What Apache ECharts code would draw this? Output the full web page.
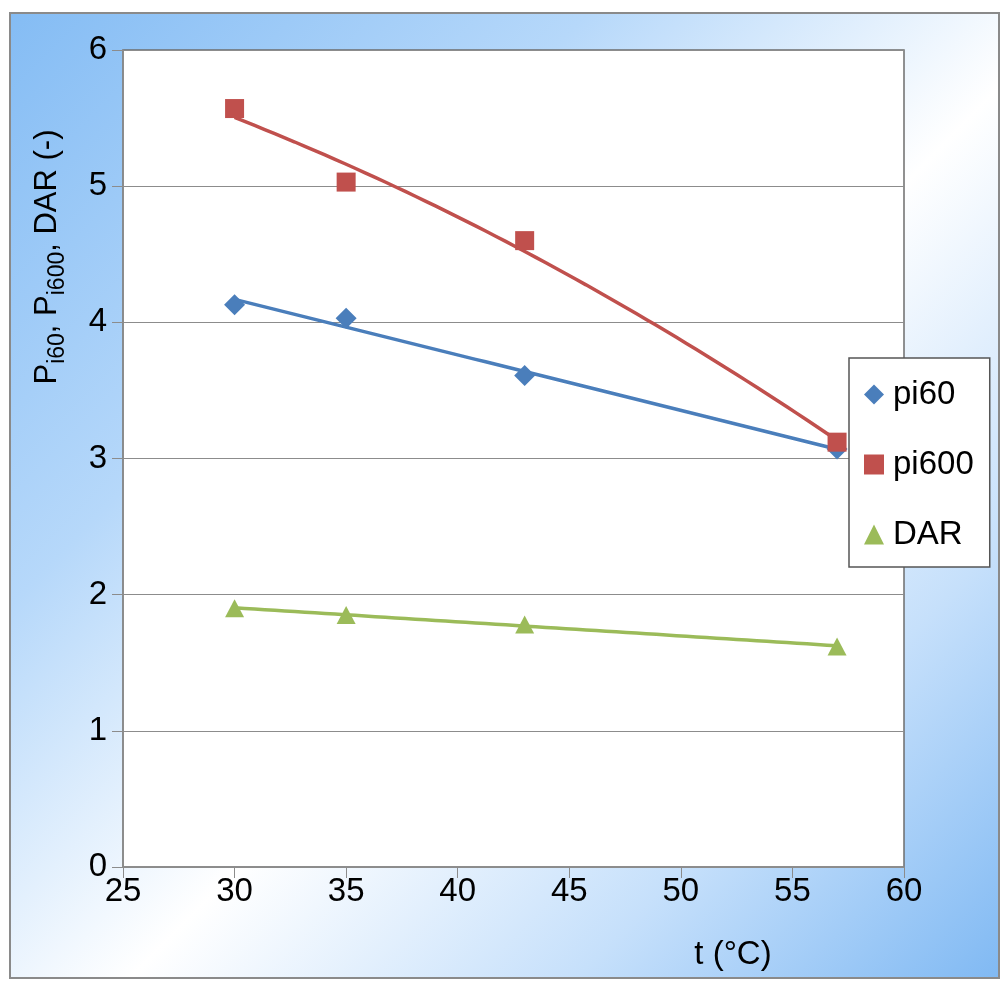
<!DOCTYPE html>
<html>
<head>
<meta charset="utf-8">
<script src="https://cdn.jsdelivr.net/npm/echarts@6/dist/echarts.min.js"></script>
<style>
html,body{margin:0;padding:0;background:#fff;}
#c{width:1001px;height:983px;}
</style>
</head>
<body>
<div id="c"></div>
<script>
// ---- data ----
const temps = [30, 35, 43, 57];
const pi60 = [4.13, 4.03, 3.61, 3.07];
const pi600 = [5.57, 5.03, 4.60, 3.12];
const dar = [1.90, 1.85, 1.78, 1.62];
const xTicks = [25, 30, 35, 40, 45, 50, 55, 60];
const yTicks = [0, 1, 2, 3, 4, 5, 6];
const seriesNames = ['pi60', 'pi600', 'DAR'];

// least-squares polynomial fit (trendlines, computed from the data)
function polyfit(xs, ys, deg) {
  const n = deg + 1;
  const A = [];
  for (let i = 0; i < n; i++) {
    A.push(new Array(n + 1).fill(0));
  }
  for (let k = 0; k < xs.length; k++) {
    for (let i = 0; i < n; i++) {
      for (let j = 0; j < n; j++) A[i][j] += Math.pow(xs[k], i + j);
      A[i][n] += ys[k] * Math.pow(xs[k], i);
    }
  }
  for (let i = 0; i < n; i++) {
    let p = i;
    for (let r = i + 1; r < n; r++) if (Math.abs(A[r][i]) > Math.abs(A[p][i])) p = r;
    [A[i], A[p]] = [A[p], A[i]];
    for (let r = 0; r < n; r++) {
      if (r === i) continue;
      const f = A[r][i] / A[i][i];
      for (let c = i; c <= n; c++) A[r][c] -= f * A[i][c];
    }
  }
  return A.map((row, i) => row[n] / row[i]);
}
function trend(xs, ys, deg) {
  const c = polyfit(xs, ys, deg);
  const x0 = xs[0], x1 = xs[xs.length - 1];
  const out = [];
  const steps = 60;
  for (let s = 0; s <= steps; s++) {
    const x = x0 + (x1 - x0) * s / steps;
    let y = 0;
    for (let i = 0; i < c.length; i++) y += c[i] * Math.pow(x, i);
    out.push([x, y]);
  }
  return out;
}
const pts = (ys) => temps.map((t, i) => [t, ys[i]]);

const BLUE = '#4a7ebb', RED = '#c0504d', GREEN = '#9bbb59';
const FONT = '"Liberation Sans", Arial, sans-serif';

const chart = echarts.init(document.getElementById('c'), null, {renderer: 'canvas'});
chart.setOption({
  animation: false,
  graphic: [
    {
      type: 'rect', z: -10, silent: true,
      shape: {x: 10, y: 13, width: 989, height: 965},
      style: {
        fill: new echarts.graphic.LinearGradient(0, 0, 1, 1, [
          {offset: 0, color: '#84bcf4'},
          {offset: 0.3, color: '#b6d8fa'},
          {offset: 0.55, color: '#ffffff'},
          {offset: 0.78, color: '#c6e0fb'},
          {offset: 1, color: '#80b9f3'}
        ]),
        stroke: '#8a8a8a', lineWidth: 2
      }
    },
    {
      type: 'text', silent: true,
      x: 47, y: 257, rotation: Math.PI / 2,
      style: {
        text: '{m|P}{s|i60}{m|, P}{s|i600}{m|, DAR (-)}',
        align: 'center', verticalAlign: 'middle',
        fill: '#000',
        rich: {
          m: {fontSize: 31, fontFamily: FONT, lineHeight: 30, fill: '#000'},
          s: {fontSize: 23, fontFamily: FONT, lineHeight: 22, padding: [22, 0, 0, 0], fill: '#000'}
        }
      }
    },
    {
      type: 'text', silent: true,
      x: 733, y: 955,
      style: {
        text: 't (°C)', align: 'center', verticalAlign: 'middle',
        font: '33px ' + FONT, fill: '#000'
      }
    }
  ],
  grid: {
    left: 123, top: 50, right: 97, bottom: 116,
    show: true, backgroundColor: '#ffffff', borderColor: '#6e6e6e', borderWidth: 1.5
  },
  xAxis: {
    type: 'value', min: 25, max: 60, interval: 5,
    axisLine: {show: true, lineStyle: {color: '#8c8c8c', width: 1.5}},
    axisTick: {show: true, inside: false, length: 11, lineStyle: {color: '#8c8c8c'}},
    splitLine: {show: false},
    axisLabel: {
      margin: 8, fontSize: 33, fontFamily: FONT, color: '#000',
      formatter: (v) => xTicks.includes(v) ? String(v) : ''
    }
  },
  yAxis: {
    type: 'value', min: 0, max: 6, interval: 1,
    axisLine: {show: true, lineStyle: {color: '#8c8c8c', width: 1.5}},
    axisTick: {show: true, inside: false, length: 11, lineStyle: {color: '#8c8c8c'}},
    splitLine: {show: true, lineStyle: {color: '#8c8c8c', width: 1.2}},
    axisLabel: {
      margin: 16, fontSize: 33, fontFamily: FONT, color: '#000',
      formatter: (v) => yTicks.includes(v) ? String(v) : ''
    }
  },
  legend: {
    orient: 'vertical', left: 849, top: 358,
    backgroundColor: '#ffffff', borderColor: '#555555', borderWidth: 1.5, borderRadius: 0,
    padding: [20, 16, 16, 15],
    itemGap: 37, itemWidth: 20, itemHeight: 20,
    textStyle: {fontSize: 33, fontFamily: FONT, color: '#000', padding: [0, 0, 0, 4]},
    data: [
      {name: seriesNames[0], icon: 'diamond'},
      {name: seriesNames[1], icon: 'rect'},
      {name: seriesNames[2], icon: 'triangle'}
    ]
  },
  series: [
    {name: 'pi60 trend', type: 'line', data: trend(temps, pi60, 1), showSymbol: false, symbol: 'none',
      lineStyle: {color: BLUE, width: 3.5}, z: 2, silent: true},
    {name: 'pi600 trend', type: 'line', data: trend(temps, pi600, 2), showSymbol: false, symbol: 'none',
      lineStyle: {color: RED, width: 3.5}, z: 2, silent: true},
    {name: 'DAR trend', type: 'line', data: trend(temps, dar, 1), showSymbol: false, symbol: 'none',
      lineStyle: {color: GREEN, width: 3.5}, z: 2, silent: true},
    {name: seriesNames[0], type: 'scatter', data: pts(pi60), symbol: 'diamond', symbolSize: [21, 21],
      itemStyle: {color: BLUE, opacity: 1}, z: 3},
    {name: seriesNames[1], type: 'scatter', data: pts(pi600), symbol: 'rect', symbolSize: [19, 19],
      itemStyle: {color: RED, opacity: 1}, z: 3},
    {name: seriesNames[2], type: 'scatter', data: pts(dar), symbol: 'triangle', symbolSize: [19, 18],
      itemStyle: {color: GREEN, opacity: 1}, z: 3}
  ]
});
</script>
</body>
</html>
